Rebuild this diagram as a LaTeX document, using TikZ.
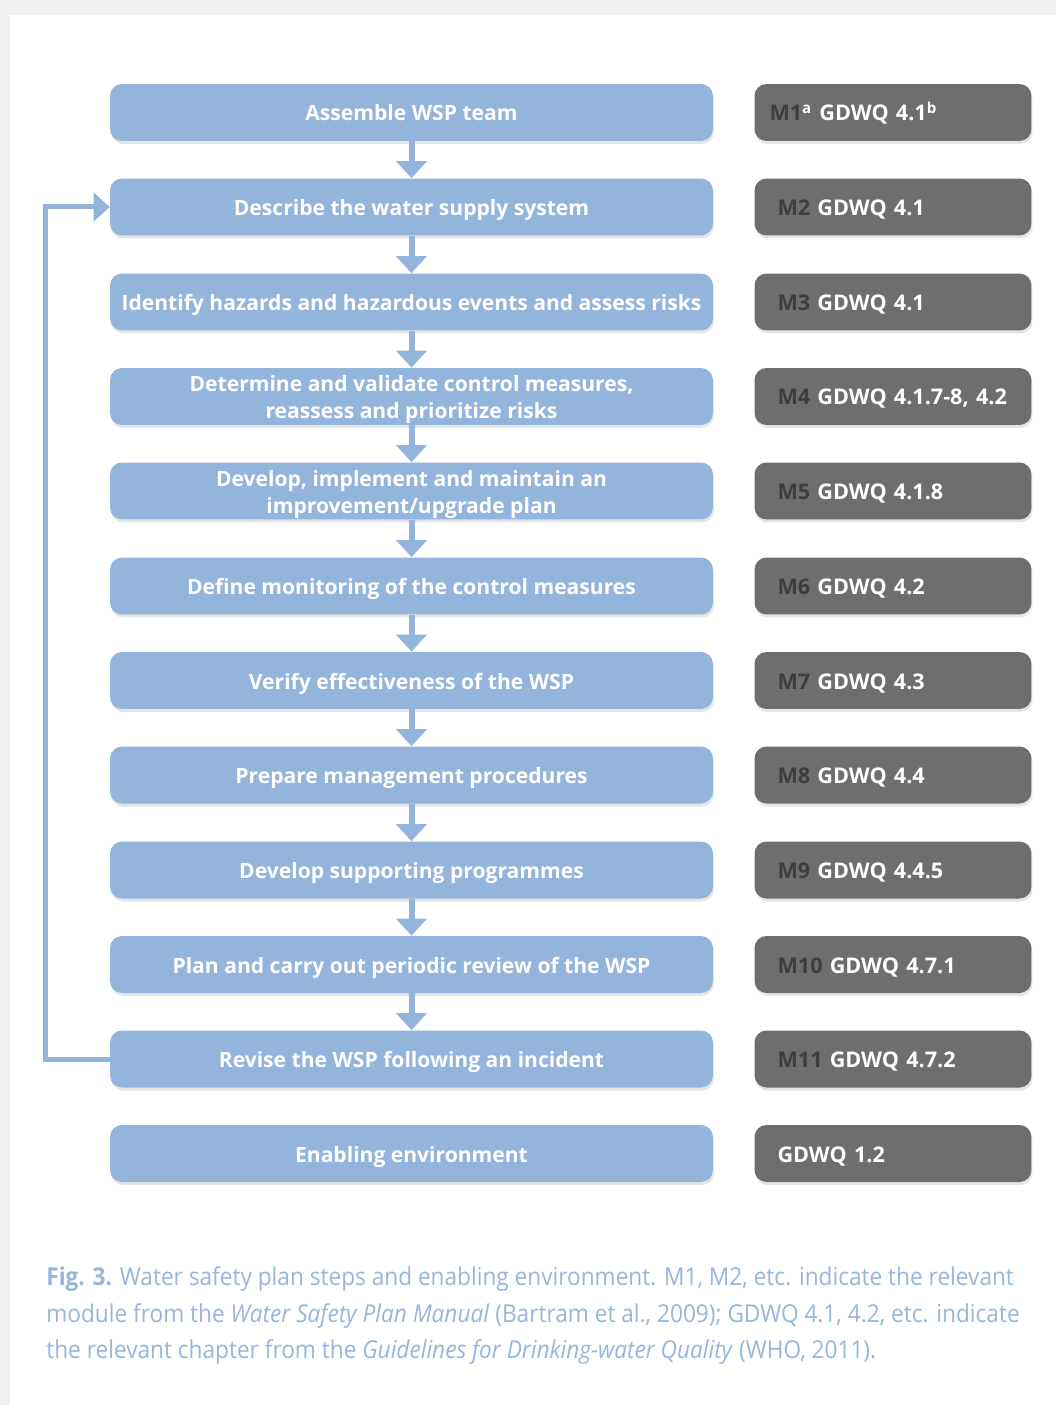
\documentclass[tikz,border=0pt]{standalone}
\usepackage{fontspec}
\setmainfont{Open Sans}
\newfontfamily\capfont[FakeStretch=0.92]{Open Sans}
\usepackage{tikz}
\usetikzlibrary{arrows.meta,shadows}

\definecolor{stepblue}{RGB}{148,181,219}
\definecolor{refgray}{RGB}{110,110,110}
\definecolor{moddark}{RGB}{62,62,62}
\definecolor{capblue}{RGB}{150,182,220}
\definecolor{pagegray}{RGB}{240,240,240}

\tikzset{
  boxshadow/.style={drop shadow={shadow xshift=0.02cm, shadow yshift=-0.06cm, opacity=0.10, fill=black}},
  stepbox/.style={fill=stepblue, rounded corners=0.24cm, minimum width=12.06cm, minimum height=1.14cm,
                  inner sep=0pt, align=center, text=white, boxshadow,
                  text height=0.42cm, text depth=0.08cm,
                  font=\bfseries\fontsize{12pt}{15.4pt}\selectfont},
  twoline/.style={text height=0.98cm},
  refbox/.style={fill=refgray, rounded corners=0.24cm, text width=4.62cm, inner xsep=0.46cm,
                 minimum height=1.14cm, align=left, text=white, boxshadow,
                 text height=0.42cm, text depth=0.08cm,
                 font=\bfseries\fontsize{12.3pt}{15.4pt}\selectfont},
  flow/.style={draw=stepblue, line width=0.12cm, -{Triangle[length=0.34cm,width=0.6cm]}},
}
\newcommand{\modnum}[1]{\textcolor{moddark}{#1}}

\begin{document}
\begin{tikzpicture}[x=0.02cm, y=-0.02cm]
    % page
    \useasboundingbox (0,0) rectangle (1056,1405);
    \fill[pagegray] (0,0) rectangle (1056,1405);
    \fill[white] (10,15) rectangle (1056,1405);

    % steps
    \node[stepbox] (s1)  at (411.5, 112.5) {Assemble WSP team};
    \node[stepbox] (s2)  at (411.5, 207.0) {Describe the water supply system};
    \node[stepbox] (s3)  at (411.5, 302.0) {Identify hazards and hazardous events and assess risks};
    \node[stepbox, twoline] (s4) at (411.5, 396.5) {Determine and validate control measures,\\ reassess and prioritize risks};
    \node[stepbox, twoline] (s5) at (411.5, 491.0) {Develop, implement and maintain an\\ improvement/upgrade plan};
    \node[stepbox] (s6)  at (411.5, 586.0) {Define monitoring of the control measures};
    \node[stepbox] (s7)  at (411.5, 680.5) {Verify effectiveness of the WSP};
    \node[stepbox] (s8)  at (411.5, 775.0) {Prepare management procedures};
    \node[stepbox] (s9)  at (411.5, 870.0) {Develop supporting programmes};
    \node[stepbox] (s10) at (411.5, 964.5) {Plan and carry out periodic review of the WSP};
    \node[stepbox] (s11) at (411.5,1059.0) {Revise the WSP following an incident};
    \node[stepbox] (env) at (411.5,1153.5) {Enabling environment};

    % references
    \node[refbox, inner xsep=0.3cm, text width=4.94cm] (r1) at (893, 112.5) {\modnum{M1}\textsuperscript{a} GDWQ 4.1\textsuperscript{b}};
    \node[refbox] (r2)  at (893, 207.0) {\modnum{M2} GDWQ 4.1};
    \node[refbox] (r3)  at (893, 302.0) {\modnum{M3} GDWQ 4.1};
    \node[refbox] (r4)  at (893, 396.5) {\modnum{M4} GDWQ 4.1.7-8, 4.2};
    \node[refbox] (r5)  at (893, 491.0) {\modnum{M5} GDWQ 4.1.8};
    \node[refbox] (r6)  at (893, 586.0) {\modnum{M6} GDWQ 4.2};
    \node[refbox] (r7)  at (893, 680.5) {\modnum{M7} GDWQ 4.3};
    \node[refbox] (r8)  at (893, 775.0) {\modnum{M8} GDWQ 4.4};
    \node[refbox] (r9)  at (893, 870.0) {\modnum{M9} GDWQ 4.4.5};
    \node[refbox] (r10) at (893, 964.5) {\modnum{M10} GDWQ 4.7.1};
    \node[refbox] (r11) at (893,1059.0) {\modnum{M11} GDWQ 4.7.2};
    \node[refbox] (r12) at (893,1153.5) {GDWQ 1.2};

    % flow
    \draw[flow] (s1)  -- (s2);
    \draw[flow] (s2)  -- (s3);
    \draw[flow] (s3)  -- (s4);
    \draw[flow] (s4)  -- (s5);
    \draw[flow] (s5)  -- (s6);
    \draw[flow] (s6)  -- (s7);
    \draw[flow] (s7)  -- (s8);
    \draw[flow] (s8)  -- (s9);
    \draw[flow] (s9)  -- (s10);
    \draw[flow] (s10) -- (s11);
    \draw[flow, line width=0.1cm, -{Triangle[length=0.32cm,width=0.56cm]}]
        (s11.west) -- ++(-64,0) |- (s2.west);

    % caption
    \node[anchor=north west, inner sep=0pt, align=left, text=capblue,
          font=\capfont\fontsize{14pt}{21pt}\selectfont] (caption) at (46,1266)
        {\textbf{Fig. 3.} Water safety plan steps and enabling environment. M1, M2, etc. indicate the relevant\\
         module from the \textit{Water Safety Plan Manual} (Bartram et al., 2009); GDWQ 4.1, 4.2, etc. indicate\\
         the relevant chapter from the \textit{Guidelines for Drinking-water Quality} (WHO, 2011).};
\end{tikzpicture}
\end{document}
